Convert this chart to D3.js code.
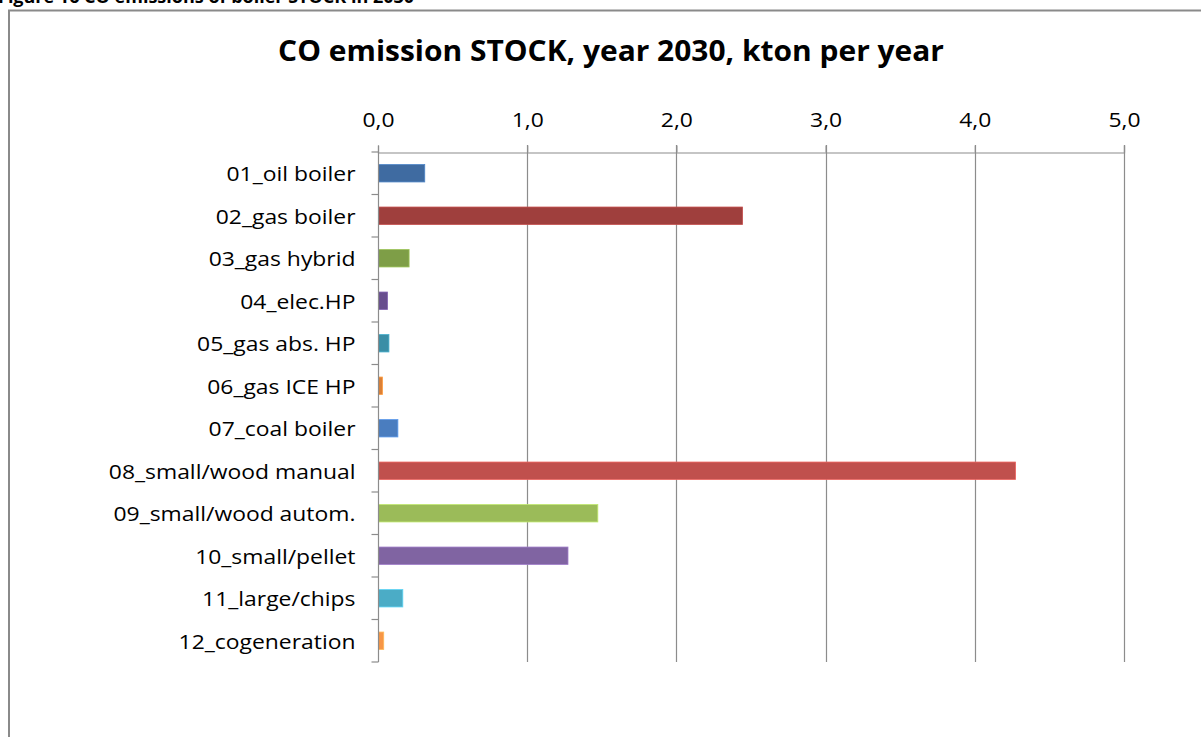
<!DOCTYPE html>
<html>
<head>
<meta charset="utf-8">
<script src="https://cdn.jsdelivr.net/npm/d3@7"></script>
<style>
  html, body { margin: 0; padding: 0; background: #fff; overflow: hidden; }
  svg { display: block; }
  text { font-family: "Open Sans", "Noto Sans", sans-serif; fill: #000; }
</style>
</head>
<body>
<svg id="chart" width="1201" height="737"></svg>
<script>
// Heating technologies in the 2030 stock
const categories = [
  "01_oil boiler", "02_gas boiler", "03_gas hybrid", "04_elec.HP",
  "05_gas abs. HP", "06_gas ICE HP", "07_coal boiler", "08_small/wood manual",
  "09_small/wood autom.", "10_small/pellet", "11_large/chips", "12_cogeneration"
];
// CO emission, kton per year
const values = [0.31, 2.44, 0.205, 0.06, 0.07, 0.027, 0.13, 4.27, 1.47, 1.27, 0.163, 0.035];
const barColors = [
  "#3F6BA1", "#9F3F3D", "#7E9E47", "#684E8E", "#3A8EA6", "#DC8036",
  "#4A7DBF", "#C0504D", "#9BBB59", "#8064A2", "#4BACC6", "#F79646"
];
const xTicks = [0, 1, 2, 3, 4, 5];

const svg = d3.select("#chart");
const locale = d3.formatLocale({ decimal: ",", thousands: ".", grouping: [3], currency: ["", ""] });
const fmt = locale.format(".1f");
const WIDE = 1.145; // horizontal stretch for the chart lettering

// Figure caption (top of page) and chart frame
svg.append("text")
  .attr("transform", "translate(-2,3)")
  .style("font-weight", "bold").style("font-size", "18px")
  .text("Figure 16 CO emissions of boiler STOCK in 2030");

svg.append("rect")
  .attr("x", 9).attr("y", 10.5).attr("width", 1300).attr("height", 800)
  .attr("fill", "none").attr("stroke", "#8a8a8a").attr("stroke-width", 2);

svg.append("text")
  .attr("transform", "translate(611,61) scale(1.07,1)")
  .attr("text-anchor", "middle")
  .style("font-weight", "bold").style("font-size", "28px")
  .text("CO emission STOCK, year 2030, kton per year");

const x = d3.scaleLinear().domain([0, 5]).range([378, 1124]);
const y = d3.scaleBand().domain(categories).range([152, 662]).paddingInner(0.59).paddingOuter(0.295);

// Vertical gridlines
svg.append("g").selectAll("line")
  .data(xTicks.filter(d => d > 0))
  .join("line")
  .attr("x1", d => Math.round(x(d)) + 0.5).attr("x2", d => Math.round(x(d)) + 0.5)
  .attr("y1", 145).attr("y2", 662)
  .attr("stroke", "#8c8c8c").attr("stroke-width", 1.2);

// Bars
svg.append("g").selectAll("rect")
  .data(values)
  .join("rect")
  .attr("x", x(0) + 0.5)
  .attr("y", (d, i) => y(categories[i]))
  .attr("width", d => x(d) - x(0))
  .attr("height", y.bandwidth())
  .attr("fill", (d, i) => barColors[i])
  .attr("stroke", (d, i) => d3.color(barColors[i]).brighter(0.6))
  .attr("stroke-width", 0.8);

// Top value axis
const xAxis = d3.axisTop(x).tickValues(xTicks).tickSize(7).tickPadding(18).tickFormat(fmt);
const gx = svg.append("g").attr("transform", "translate(0,152.5)").call(xAxis);
gx.select(".domain").attr("stroke", "#8c8c8c").attr("stroke-width", 1.2);
gx.selectAll(".tick line").attr("stroke", "#8c8c8c").attr("stroke-width", 1.2);
gx.selectAll(".tick text")
  .attr("transform", `translate(0,-26) scale(${WIDE},1)`)
  .attr("y", null)
  .style("font-size", "20px").attr("fill", "#000");

// Category axis
const gy = svg.append("g").attr("transform", "translate(378.5,0)");
gy.append("line").attr("y1", 152).attr("y2", 662)
  .attr("stroke", "#8c8c8c").attr("stroke-width", 1.2);
const step = y.step();
gy.selectAll("line.tk")
  .data(d3.range(categories.length + 1))
  .join("line").attr("class", "tk")
  .attr("x1", -7).attr("x2", 0)
  .attr("y1", i => 152 + i * step).attr("y2", i => 152 + i * step)
  .attr("stroke", "#8c8c8c").attr("stroke-width", 1.2);
gy.selectAll("text")
  .data(categories)
  .join("text")
  .attr("transform", d => `translate(-23,${y(d) + y.bandwidth() / 2 + 1}) scale(${WIDE},1)`)
  .attr("dy", "0.35em")
  .attr("text-anchor", "end")
  .style("font-size", "20px")
  .text(d => d);
</script>
</body>
</html>
